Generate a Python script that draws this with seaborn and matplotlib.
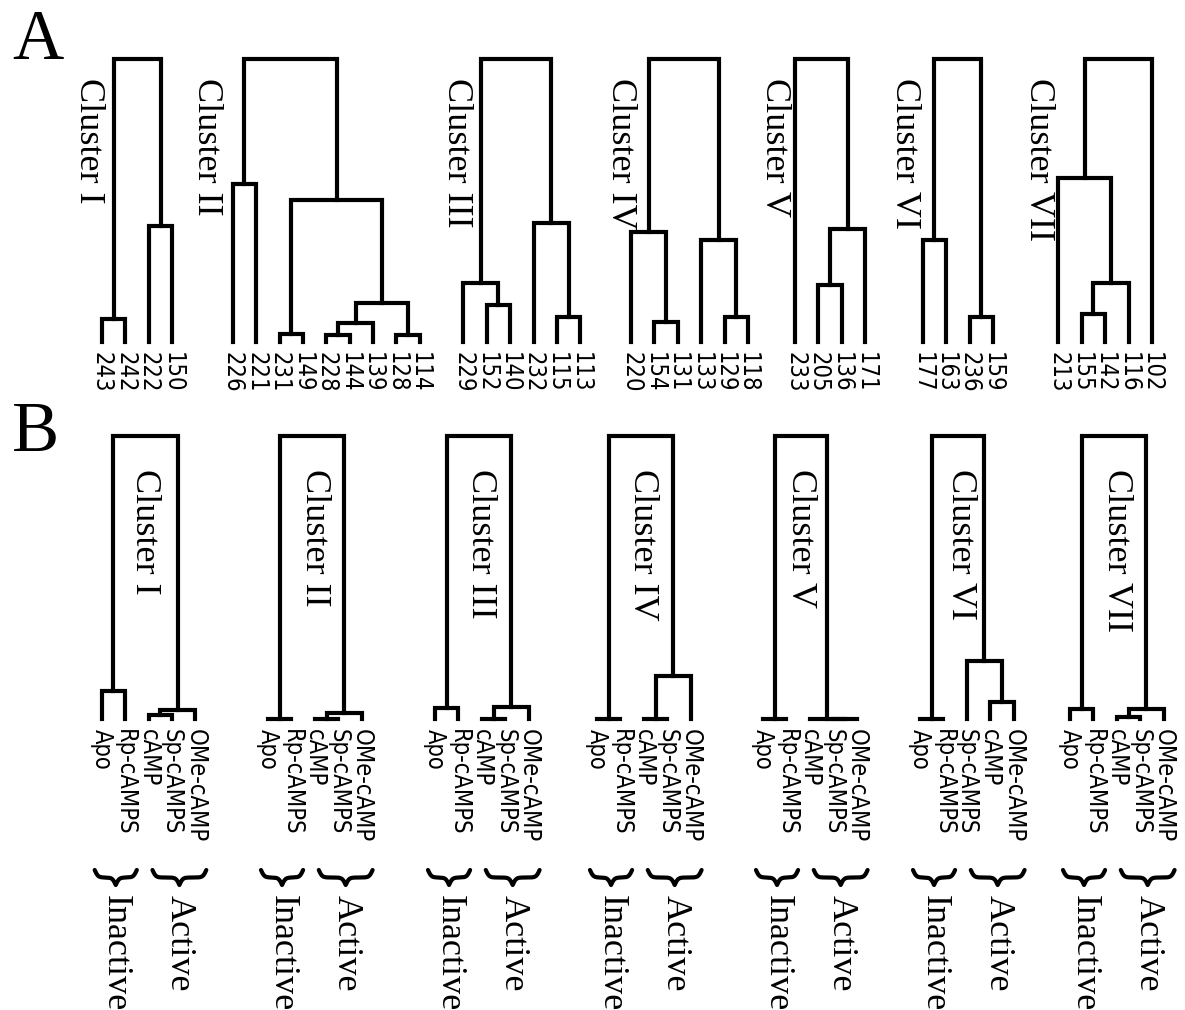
import numpy as np
import pandas as pd
import matplotlib
matplotlib.use("Agg")
import matplotlib.pyplot as plt
import seaborn as sns

# Panel A: clusters of MD structures, nested as [left, right, merge height] (root = 1)
a_names = ["Cluster I", "Cluster II", "Cluster III", "Cluster IV",
           "Cluster V", "Cluster VI", "Cluster VII"]
a_tree_1 = [["243", "242", 0.08], ["222", "150", 0.41], 1.0]
a_tree_2 = [["226", "221", 0.56],
            [["231", "149", 0.03],
             [[["228", "144", 0.025], "139", 0.067], ["128", "114", 0.025], 0.138],
             0.50],
            1.0]
a_tree_3 = [["229", ["152", "140", 0.13], 0.21], ["232", ["115", "113", 0.09], 0.42], 1.0]
a_tree_4 = [["220", ["154", "131", 0.07], 0.39], ["133", ["129", "118", 0.09], 0.36], 1.0]
a_tree_5 = ["233", [["205", "136", 0.20], "171", 0.40], 1.0]
a_tree_6 = [["177", "163", 0.36], ["236", "159", 0.09], 1.0]
a_tree_7 = [["213", [["155", "142", 0.10], "116", 0.21], 0.58], "102", 1.0]
a_trees = [a_tree_1, a_tree_2, a_tree_3, a_tree_4, a_tree_5, a_tree_6, a_tree_7]

# Panel B: ligand states within each cluster
b_names = a_names
b_tree_1 = [["Apo", "Rp-cAMPS", 0.10], [["cAMP", "Sp-cAMPS", 0.013], "OMe-cAMP", 0.033], 1.0]
b_tree_2 = [["Apo", "Rp-cAMPS", 0.0], [["cAMP", "Sp-cAMPS", 0.0], "OMe-cAMP", 0.022], 1.0]
b_tree_3 = [["Apo", "Rp-cAMPS", 0.04], [["cAMP", "Sp-cAMPS", 0.0], "OMe-cAMP", 0.043], 1.0]
b_tree_4 = [["Apo", "Rp-cAMPS", 0.0], [["cAMP", "Sp-cAMPS", 0.0], "OMe-cAMP", 0.153], 1.0]
b_tree_5 = [["Apo", "Rp-cAMPS", 0.0], ["cAMP", ["Sp-cAMPS", "OMe-cAMP", 0.0], 0.0], 1.0]
b_tree_6 = [["Apo", "Rp-cAMPS", 0.0], ["Sp-cAMPS", ["cAMP", "OMe-cAMP", 0.06], 0.206], 1.0]
b_tree_7 = [["Apo", "Rp-cAMPS", 0.035], [["cAMP", "Sp-cAMPS", 0.006], "OMe-cAMP", 0.035], 1.0]
b_trees = [b_tree_1, b_tree_2, b_tree_3, b_tree_4, b_tree_5, b_tree_6, b_tree_7]
b_groups = ["Inactive", "Active"]

# layout (pixels)
W, H = 1185, 1010
SP = 23.4          # leaf spacing
TREE_H = 283       # root-to-leaf height
a_first_leaf = [102, 232.7, 463.3, 631, 795, 922.7, 1058.3]
a_base, a_label_x, a_label_top = 342, [88, 207, 456, 620, 775, 905, 1039], 78
b_first_leaf = [101.7, 268, 435, 597, 763, 920, 1070]
b_base, b_label_x, b_label_top = 719, [144, 314, 481, 643, 800, 961, 1117], 469

sns.set_theme(style="white")
plt.rcParams['font.family'] = ['Liberation Serif', 'DejaVu Serif']
plt.rcParams['text.color'] = 'black'

fig = plt.figure(figsize=(W / 100, H / 100), dpi=100)
ov = fig.add_axes([0, 0, 1, 1])
ov.set_xlim(0, W)
ov.set_ylim(H, 0)
ov.axis('off')


def leaf_order(node):
    if isinstance(node, str):
        return [node]
    return leaf_order(node[0]) + leaf_order(node[1])


def build(node, pos, rows):
    # returns (x, height) of node, appends U-shaped links to rows
    if isinstance(node, str):
        return pos[node], 0.0
    xl, hl = build(node[0], pos, rows)
    xr, hr = build(node[1], pos, rows)
    h = node[2]
    k = len(rows)
    rows += [(xl, hl, k), (xl, h, k), (xr, h, k), (xr, hr, k)]
    return (xl + xr) / 2, h


def draw_tree(tree, x_first, y_base):
    order = leaf_order(tree)
    n = len(order)
    pos = {lab: i for i, lab in enumerate(order)}
    rows = []
    build(tree, pos, rows)
    df = pd.DataFrame(rows, columns=["x", "y", "link"])
    df["link"] = df.index // 4
    ax = fig.add_axes([(x_first - SP / 2) / W, (H - y_base) / H, n * SP / W, TREE_H / H])
    sns.lineplot(data=df, x="x", y="y", units="link", estimator=None, sort=False,
                 color="black", lw=3.0, ax=ax, clip_on=False, legend=False,
                 solid_joinstyle='miter', solid_capstyle='projecting')
    ax.set_xlim(-0.5, n - 0.5)
    ax.set_ylim(0, 1)
    ax.axis('off')
    for i, lab in enumerate(order):
        ax.annotate(lab, (i, 0), xytext=(0, -7), textcoords='offset points',
                    rotation=270, ha='center', va='top', fontsize=17,
                    family='DejaVu Sans', fontstretch='condensed')
    return ax


def brace(x0, x1, y_top, depth):
    w = x1 - x0
    k = 0.6 * w
    u = np.linspace(0, 0.5, 150)
    g = 1 / (1 + np.exp(-k * u)) + 1 / (1 + np.exp(-k * (u - 0.5))) - 0.5
    g = np.concatenate([g, g[-2::-1]])
    xs = np.linspace(x0, x1, len(g))
    ov.plot(xs, y_top + g * depth, color='black', lw=3.0)


# panel A
for tree, name, xf, lx in zip(a_trees, a_names, a_first_leaf, a_label_x):
    draw_tree(tree, xf, a_base)
    ov.text(lx, a_label_top, name, rotation=270, ha='center', va='top', fontsize=26)

# panel B
for tree, name, xf, lx in zip(b_trees, b_names, b_first_leaf, b_label_x):
    draw_tree(tree, xf, b_base)
    ov.text(lx, b_label_top, name, rotation=270, ha='center', va='top', fontsize=26)
    spans = [(xf - 0.3 * SP, xf + 1.5 * SP), (xf + 2.17 * SP, xf + 4.47 * SP)]
    for (x0, x1), grp in zip(spans, b_groups):
        brace(x0, x1, 870, 15)
        ov.text((x0 + x1) / 2, 895, grp, rotation=270, ha='center', va='top', fontsize=26)

ov.text(12, 59, "A", fontsize=51, ha='left', va='baseline')
ov.text(12, 451, "B", fontsize=51, ha='left', va='baseline')

fig.savefig("out.png", dpi=100, facecolor='white')
